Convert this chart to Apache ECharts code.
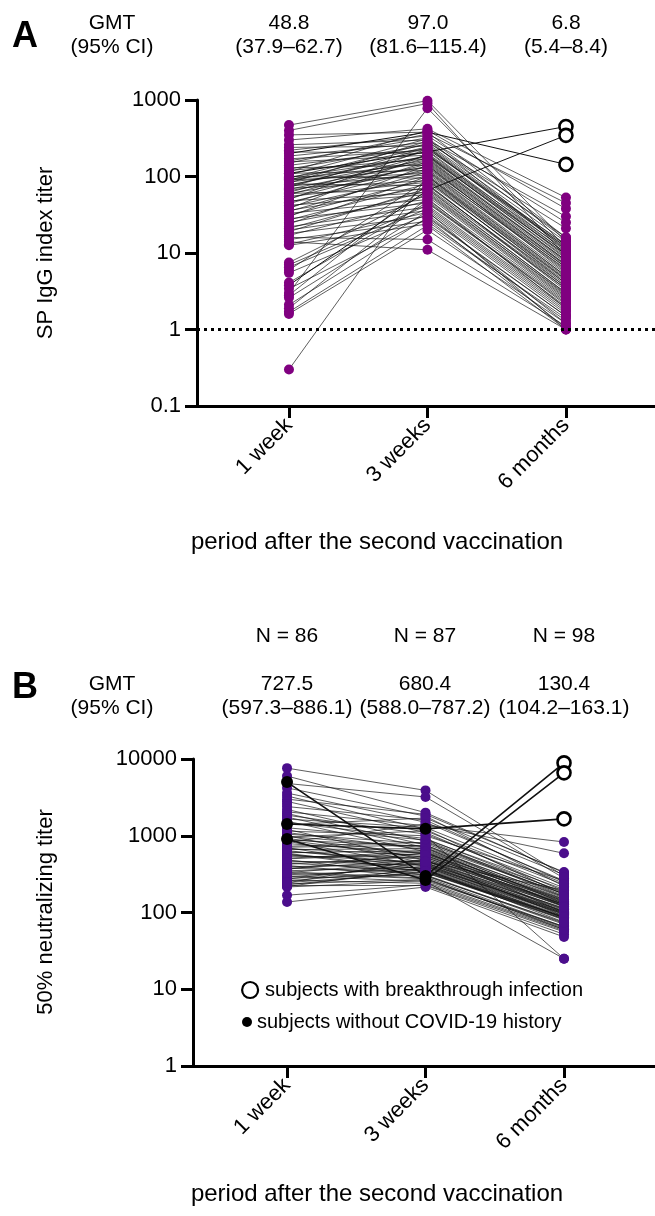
<!DOCTYPE html>
<html><head><meta charset="utf-8">
<script src="https://cdn.jsdelivr.net/npm/echarts@6/dist/echarts.min.js"></script>
<style>html,body{margin:0;padding:0;background:#fff}#c{width:655px;height:1216px}</style>
</head><body><div id="c"></div>
<script>
const timepoints = ['1 week', '3 weeks', '6 months'];

// Panel A: SP IgG index titer (one entry per subject)
const A_week1 = [470,400,350,300,260,240,220,210,200,185,170,160,155,150,140,130,125,120,115,110,110,105,100,98,95,92,90,90,88,85,82,80,78,75,75,72,70,68,65,62,60,60,58,55,52,50,48,46,44,42,40,38,36,35,33,31,30,28,27,25,24,22,21,20,19,18,17,16,15,14,13,12.6,7.5,7,6.5,6,5.5,4.1,3.8,3.4,3,2.8,2.6,2.1,1.9,1.7,1.6,0.3];
const A_week3 = [980,900,380,420,300,250,340,200,380,280,220,320,190,360,230,140,260,170,400,210,120,310,95,180,270,150,245,110,185,130,290,76,165,215,105,240,88,160,135,190,68,118,175,84,145,230,62,125,155,58,102,195,72,115,50,92,140,45,80,55,100,40,65,36,70,30,48,15,26,11,34,24,60,42,38,90,32,46,66,28,780,78,35,29,52,23,20,100];
const A_month6 = [14,9,16,53,30,12,25,11,144,21,10,15,8.4,45,13,5.5,12.5,7.7,38,450,6.2,11,4.4,9.5,14,7,10.5,5,8.7,6.5,16,3.6,8,9,4.8,11.5,3.8,7.4,6,9.5,3,5.3,8,4,6.8,12,2.9,5.8,7,2.6,4.6,10,3.4,5,2.4,4.2,6.5,2.2,3.2,2.5,4,1.9,2.8,1.7,3,1.5,2.1,1.1,1.3,1,1.6,1.4,2.7,2,1.8,3.6,1.2,2.3,345,1.05,12,3.4,1,1.5,1.9,1,1.2,4.5];
const A_breakthrough = [8, 19, 78];
const A_gmt = ['48.8', '97.0', '6.8'];
const A_ci = ['(37.9–62.7)', '(81.6–115.4)', '(5.4–8.4)'];
const A_yTicks = [0.1, 1, 10, 100, 1000];

// Panel B: 50% neutralizing titer (one entry per subject, null = not measured)
const B_week1 = [7600,6000,4800,4200,3600,3300,3000,2800,2600,2400,2200,2050,1950,1850,1750,1650,1550,1480,1400,1330,1270,1210,1150,1100,1050,1000,960,920,880,850,820,790,760,730,700,680,660,640,620,600,580,560,540,520,500,485,470,455,440,425,410,395,380,365,350,340,330,320,310,300,290,280,272,265,258,250,243,236,230,224,218,215,168,137,980,870,710,590,510,445,375,325,245,null,null,null,null,null,null,null,null,null,null,null,null,5000,910,1420];
const B_week3 = [3900,2000,3200,1800,1500,1220,1900,1100,null,1600,850,1350,760,1050,700,1280,620,920,1700,null,880,480,1000,660,790,440,1160,580,730,400,1420,600,null,820,365,555,680,420,495,640,340,450,525,null,585,305,410,470,350,540,290,430,330,600,390,280,465,null,370,255,400,310,440,240,360,null,500,270,345,225,380,260,230,215,700,520,750,360,620,null,480,275,330,900,560,420,350,250,460,1000,300,null,null,null,null,300,265,1230];
const B_month6 = [300,330,280,220,260,170,336,190,150,250,160,830,130,210,120,240,100,180,310,110,165,90,25,140,175,105,230,125,155,85,590,135,115,185,75,128,150,98,112,145,80,102,118,92,138,70,95,122,82,132,65,100,88,142,96,60,108,78,90,25,104,72,114,58,86,68,126,62,84,52,94,66,56,48,160,128,175,88,148,76,110,64,82,200,120,98,86,60,195,260,74,290,160,118,230,8900,6600,1660];
const B_breakthrough = [95, 96, 97];
const B_n = ['N = 86', 'N = 87', 'N = 98'];
const B_gmt = ['727.5', '680.4', '130.4'];
const B_ci = ['(597.3–886.1)', '(588.0–787.2)', '(104.2–163.1)'];
const B_yTicks = [1, 10, 100, 1000, 10000];

const FF = '"Liberation Sans", Arial, Helvetica, sans-serif';
const legendOpen = 'subjects with breakthrough infection';
const legendDot = 'subjects without COVID-19 history';

function buildPanel(gi, w1, w3, m6, bt, color, btEarlyBlack, btWidth, openName, dotName) {
  const series = [];
  const purple = [], black = [], open = [];
  for (let i = 0; i < w1.length; i++) {
    const isBt = bt.indexOf(i) >= 0;
    const vals = [w1[i], w3[i], m6[i]];
    series.push({
      type: 'line', xAxisIndex: gi, yAxisIndex: gi, silent: true, animation: false,
      showSymbol: false, symbol: 'none', connectNulls: false, z: 2,
      data: vals.map((v, k) => [k + 1, v == null ? '-' : v]),
      lineStyle: { color: '#111', width: isBt ? btWidth : 0.8, opacity: isBt ? 1 : 0.85 }
    });
    vals.forEach((v, k) => {
      if (v == null) return;
      if (isBt && k === 2) open.push([k + 1, v]);
      else if (isBt && btEarlyBlack) black.push([k + 1, v]);
      else purple.push([k + 1, v]);
    });
  }
  series.push({
    type: 'scatter', xAxisIndex: gi, yAxisIndex: gi, silent: true, animation: false, z: 3,
    symbol: 'circle', symbolSize: 10, itemStyle: { color: color, opacity: 1 }, data: purple
  });
  series.push({
    name: dotName, type: 'scatter', xAxisIndex: gi, yAxisIndex: gi, silent: true, animation: false, z: 4,
    symbol: 'circle', symbolSize: 12, itemStyle: { color: '#000', opacity: 1 }, data: black
  });
  series.push({
    name: openName, type: 'scatter', xAxisIndex: gi, yAxisIndex: gi, silent: true, animation: false, z: 4,
    symbol: 'circle', symbolSize: 13, itemStyle: { color: '#fff', borderColor: '#000', borderWidth: 2.6, opacity: 1 }, data: open
  });
  return series;
}

const seriesA = buildPanel(0, A_week1, A_week3, A_month6, A_breakthrough, '#800080', false, 1.0, 'breakthrough (A)', 'no history (A)');
seriesA[0].markLine = {
  silent: true, symbol: ['none', 'none'], label: { show: false }, animation: false,
  lineStyle: { color: '#000', type: [3, 4], width: 3, cap: 'butt', opacity: 1 },
  data: [{ yAxis: 1 }]
};
const seriesB = buildPanel(1, B_week1, B_week3, B_month6, B_breakthrough, '#4B0E8C', true, 1.6, legendOpen, legendDot);

function xAxisCfg(gi, min, max) {
  return {
    gridIndex: gi, type: 'value', min: min, max: max,
    axisLine: { onZero: false, lineStyle: { color: '#000', width: 3 } },
    axisTick: { customValues: [1, 2, 3], length: 12, lineStyle: { color: '#000', width: 3 } },
    axisLabel: {
      customValues: [1, 2, 3], rotate: 45, margin: 16, color: '#000', fontSize: 22, fontFamily: FF,
      formatter: v => timepoints[Math.round(v) - 1] || ''
    },
    splitLine: { show: false }
  };
}
function yAxisCfg(gi, min, max, ticks) {
  return {
    gridIndex: gi, type: 'log', logBase: 10, min: min, max: max,
    axisLine: { show: true, lineStyle: { color: '#000', width: 3 } },
    axisTick: { show: true, customValues: ticks, length: 12, lineStyle: { color: '#000', width: 3 } },
    axisLabel: { customValues: ticks, color: '#000', fontSize: 22, fontFamily: FF, margin: 16,
      formatter: v => (v < 1 ? String(Math.round(v * 10) / 10) : String(Math.round(v))) },
    splitLine: { show: false }, minorTick: { show: false }
  };
}

function txt(x, y, text, size, bold, rot) {
  return {
    type: 'text', x: x, y: y, rotation: rot || 0, silent: true,
    style: { text: text, fontSize: size, fontFamily: FF, fontWeight: bold ? 'bold' : 'normal',
      fill: '#000', align: 'center', verticalAlign: 'middle' }
  };
}
const colA = [289, 428, 566];
const colB = [287, 425, 564];
const graphics = [
  txt(25, 37, 'A', 36, true),
  txt(112, 23, 'GMT', 21), txt(112, 47, '(95% CI)', 21),
  txt(377, 542, 'period after the second vaccination', 24),
  txt(46, 253, 'SP IgG index titer', 22, false, Math.PI / 2),
  txt(25, 688, 'B', 36, true),
  txt(112, 684, 'GMT', 21), txt(112, 708, '(95% CI)', 21),
  txt(377, 1194, 'period after the second vaccination', 24),
  txt(46, 912, '50% neutralizing titer', 22, false, Math.PI / 2)
];
for (let k = 0; k < 3; k++) {
  graphics.push(txt(colA[k], 23, A_gmt[k], 21));
  graphics.push(txt(colA[k], 47, A_ci[k], 21));
  graphics.push(txt(colB[k], 636, B_n[k], 21));
  graphics.push(txt(colB[k], 684, B_gmt[k], 21));
  graphics.push(txt(colB[k], 708, B_ci[k], 21));
}

const chart = echarts.init(document.getElementById('c'), null, { renderer: 'canvas' });
chart.setOption({
  animation: false,
  backgroundColor: '#fff',
  textStyle: { fontFamily: FF },
  grid: [
    { left: 197, top: 100, width: 458, height: 306 },
    { left: 193, top: 759, width: 462, height: 307 }
  ],
  xAxis: [xAxisCfg(0, 0.336, 3.643), xAxisCfg(1, 0.321, 3.657)],
  yAxis: [yAxisCfg(0, 0.1, 1000, A_yTicks), yAxisCfg(1, 1, 10000, B_yTicks)],
  legend: [
    { data: [legendOpen], left: 236, top: 975, orient: 'vertical', itemWidth: 16, itemHeight: 16,
      itemGap: 8, selectedMode: false, icon: 'circle',
      itemStyle: { color: '#fff', borderColor: '#000', borderWidth: 2.2, opacity: 1 },
      textStyle: { fontSize: 20, color: '#000', fontFamily: FF, padding: [0, 0, 0, 2] } },
    { data: [legendDot], left: 237, top: 1007, orient: 'vertical', itemWidth: 10, itemHeight: 10,
      selectedMode: false, icon: 'circle',
      itemStyle: { color: '#000', opacity: 1 },
      textStyle: { fontSize: 20, color: '#000', fontFamily: FF } }
  ],
  graphic: graphics,
  series: seriesA.concat(seriesB)
});
</script></body></html>
